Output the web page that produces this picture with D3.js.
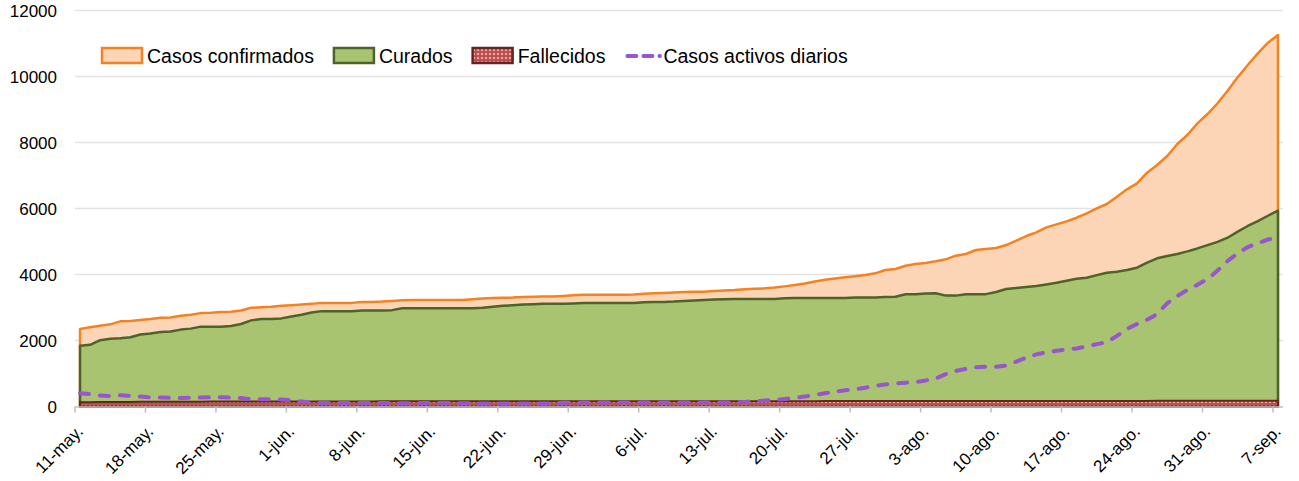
<!DOCTYPE html>
<html>
<head>
<meta charset="utf-8">
<script src="https://cdn.jsdelivr.net/npm/d3@7"></script>
<style>
  body { margin: 0; background: #fff; }
  text { font-family: "Liberation Sans", Arial, sans-serif; fill: #000; }
</style>
</head>
<body>
<div id="chart"></div>
<script>
"use strict"

/**
 * DATA (one value per day from 11-may to 7-sep)
 * */
const days = d3.timeDay.range(new Date(2020, 4, 11), new Date(2020, 8, 8));

const tickLabels = ["11-may.", "18-may.", "25-may.", "1-jun.", "8-jun.", "15-jun.",
  "22-jun.", "29-jun.", "6-jul.", "13-jul.", "20-jul.", "27-jul.", "3-ago.",
  "10-ago.", "17-ago.", "24-ago.", "31-ago.", "7-sep."];

const yTicks = [0, 2000, 4000, 6000, 8000, 10000, 12000];

const confirmados = [
  2350, 2400, 2450, 2490, 2580, 2590, 2620, 2650, 2690, 2700,
  2750, 2780, 2830, 2840, 2860, 2870, 2910, 2990, 3010, 3020,
  3050, 3070, 3090, 3110, 3140, 3140, 3140, 3140, 3170, 3170,
  3180, 3200, 3220, 3225, 3225, 3225, 3225, 3225, 3230, 3250,
  3270, 3290, 3295, 3300, 3320, 3325, 3330, 3335, 3350, 3370,
  3385, 3385, 3390, 3390, 3390, 3395, 3415, 3430, 3440, 3455,
  3470, 3475, 3480, 3500, 3515, 3530, 3555, 3565, 3580, 3605,
  3640, 3680, 3730, 3790, 3840, 3880, 3920, 3950, 3985, 4035,
  4136, 4166, 4267, 4318, 4348, 4399, 4460, 4570, 4621, 4742,
  4772, 4803, 4893, 5024, 5166, 5277, 5428, 5519, 5610, 5721,
  5853, 6004, 6136, 6357, 6580, 6762, 7085, 7317, 7590, 7954,
  8226, 8580, 8863, 9187, 9570, 9975, 10347, 10702, 11024, 11256
];

const curados = [
  1840, 1870, 2010, 2050, 2070, 2100, 2180, 2210, 2260, 2270,
  2330, 2360, 2420, 2420, 2420, 2440, 2500, 2610, 2650, 2650,
  2670, 2730, 2780, 2850, 2890, 2890, 2890, 2890, 2910, 2910,
  2910, 2920, 2980, 2980, 2980, 2980, 2980, 2980, 2980, 2980,
  2990, 3020, 3050, 3070, 3090, 3100, 3110, 3110, 3110, 3120,
  3135, 3140, 3140, 3140, 3140, 3140, 3160, 3165, 3170, 3180,
  3200, 3215, 3230, 3240, 3250, 3255, 3255, 3255, 3255, 3255,
  3280, 3285, 3285, 3285, 3285, 3285, 3285, 3300, 3300, 3300,
  3320, 3325, 3400, 3405, 3425, 3430, 3360, 3360, 3400, 3405,
  3405, 3470, 3560, 3590, 3620, 3650, 3700, 3750, 3810, 3870,
  3900, 3980, 4055, 4085, 4135, 4205, 4360, 4490, 4560, 4620,
  4700, 4790, 4890, 4990, 5115, 5300, 5470, 5620, 5780, 5935
];

const fallecidos = [
  130, 132, 134, 136, 138, 140, 141, 142, 143, 144,
  145, 146, 147, 148, 149, 150, 150, 151, 151, 152,
  152, 153, 153, 154, 154, 154, 155, 155, 155, 155,
  156, 156, 156, 156, 156, 157, 157, 157, 157, 157,
  158, 158, 158, 158, 158, 158, 159, 159, 159, 159,
  159, 159, 160, 160, 160, 160, 160, 160, 160, 160,
  161, 161, 161, 161, 161, 161, 161, 162, 162, 162,
  162, 162, 162, 162, 163, 163, 163, 163, 163, 163,
  164, 164, 164, 164, 164, 165, 165, 165, 165, 165,
  166, 166, 166, 166, 167, 167, 167, 167, 168, 168,
  168, 169, 169, 169, 170, 170, 170, 171, 171, 172,
  172, 173, 173, 174, 174, 175, 175, 176, 176, 177
];

const activos = [
  400, 380, 330, 320, 340, 320, 300, 280, 270, 260,
  258, 265, 270, 280, 278, 268, 255, 220, 218, 218,
  210, 188, 150, 115, 105, 105, 108, 110, 108, 105,
  105, 102, 100, 102, 105, 106, 104, 102, 100, 98,
  92, 90, 88, 88, 90, 90, 92, 95, 112, 115,
  118, 118, 120, 120, 120, 118, 118, 120, 120, 122,
  120, 118, 118, 120, 122, 125, 140, 160, 180, 200,
  230, 260, 300, 350, 400, 450, 490, 520, 570, 620,
  670, 700, 720, 740, 790, 850, 980, 1080, 1140, 1190,
  1205, 1205, 1240, 1360, 1480, 1580, 1640, 1690, 1730, 1760,
  1820, 1890, 1950, 2140, 2350, 2500, 2630, 2800, 3130, 3350,
  3530, 3690, 3860, 4120, 4410, 4640, 4830, 4950, 5060, 5115
];

const seriesNames = ["Casos confirmados", "Curados", "Fallecidos", "Casos activos diarios"];

/**
 * LAYOUT
 * */
const width = 1299,
  height = 481,
  plot = { left: 75, right: 1283, top: 10.5, bottom: 406.5 };

const colors = {
  confFill: "#FBD5B5", confStroke: "#F58220",
  curFill: "#A9C471", curStroke: "#4F6228",
  falFill: "#C0504D", falStroke: "#632523",
  activos: "#9955CC", grid: "#E2E2E2", axis: "#BFBFBF"
};

const svg = d3.select("#chart")
  .append("svg")
  .attr("width", width)
  .attr("height", height);

const defs = svg.append("defs");
const pat = defs.append("pattern")
  .attr("id", "dots")
  .attr("patternUnits", "userSpaceOnUse")
  .attr("width", 4)
  .attr("height", 4);
pat.append("rect").attr("width", 4).attr("height", 4).attr("fill", colors.falFill);
pat.append("circle").attr("cx", 2).attr("cy", 2).attr("r", 0.9).attr("fill", "#F6D8D6");

const x = d3.scaleBand()
  .domain(days)
  .range([plot.left, plot.right])
  .paddingInner(0)
  .paddingOuter(0);

const y = d3.scaleLinear()
  .domain([0, 12000])
  .range([plot.bottom, plot.top]);

const cx = i => x(days[i]) + x.bandwidth() / 2;

// gridlines
svg.append("g")
  .selectAll("line")
  .data(yTicks.slice(1))
  .join("line")
    .attr("x1", plot.left)
    .attr("x2", plot.right)
    .attr("y1", d => y(d))
    .attr("y2", d => y(d))
    .attr("stroke", colors.grid)
    .attr("stroke-width", 1.5);

// y labels
svg.append("g")
  .style("font-size", "17px")
  .attr("text-anchor", "end")
  .selectAll("text")
  .data(yTicks)
  .join("text")
    .attr("x", 57)
    .attr("y", d => y(d))
    .attr("dy", "0.36em")
    .text(d => d);

// areas
const area = vals => d3.area()
  .x((d, i) => cx(i))
  .y0(y(0))
  .y1(d => y(d))(vals);

svg.append("path")
  .attr("d", area(confirmados))
  .attr("fill", colors.confFill)
  .attr("stroke", colors.confStroke)
  .attr("stroke-width", 2.5)
  .attr("stroke-linejoin", "round");

svg.append("path")
  .attr("d", area(curados))
  .attr("fill", colors.curFill)
  .attr("stroke", colors.curStroke)
  .attr("stroke-width", 2.5)
  .attr("stroke-linejoin", "round");

svg.append("path")
  .attr("d", area(fallecidos))
  .attr("fill", "url(#dots)")
  .attr("stroke", colors.falStroke)
  .attr("stroke-width", 2);

// x axis
const weekIdx = d3.range(0, days.length, 7);
const xAxis = svg.append("g");
xAxis.append("line")
  .attr("x1", plot.left)
  .attr("x2", plot.right)
  .attr("y1", plot.bottom + 0.5)
  .attr("y2", plot.bottom + 0.5)
  .attr("stroke", colors.axis)
  .attr("stroke-width", 1.5);

xAxis.selectAll("line.tick")
  .data(weekIdx)
  .join("line")
    .attr("class", "tick")
    .attr("x1", i => x(days[i]))
    .attr("x2", i => x(days[i]))
    .attr("y1", plot.bottom)
    .attr("y2", plot.bottom + 6)
    .attr("stroke", colors.axis)
    .attr("stroke-width", 1.5);

xAxis.selectAll("text")
  .data(weekIdx)
  .join("text")
    .style("font-size", "17px")
    .attr("text-anchor", "end")
    .attr("transform", i => `translate(${x(days[i]) + 9},${plot.bottom + 26}) rotate(-45)`)
    .text((i, k) => tickLabels[k]);

// activos line
svg.append("path")
  .attr("d", d3.line().x((d, i) => cx(i)).y(d => y(d))(activos))
  .attr("fill", "none")
  .attr("stroke", colors.activos)
  .attr("stroke-width", 4)
  .attr("stroke-dasharray", "9,11")
  .attr("stroke-linecap", "round");

/**
 * LEGEND
 * */
const legend = svg.append("g").style("font-size", "19.5px");
let lx = 101;
seriesNames.forEach((name, k) => {
  if (k < 3) {
    const fills = [colors.confFill, colors.curFill, "url(#dots)"];
    const strokes = [colors.confStroke, colors.curStroke, colors.falStroke];
    legend.append("rect")
      .attr("x", lx + 1)
      .attr("y", 48)
      .attr("width", 40)
      .attr("height", 15)
      .attr("fill", fills[k])
      .attr("stroke", strokes[k])
      .attr("stroke-width", 2.5);
    lx += 46;
  } else {
    legend.append("line")
      .attr("x1", lx + 3)
      .attr("x2", lx + 38)
      .attr("y1", 56)
      .attr("y2", 56)
      .attr("stroke", colors.activos)
      .attr("stroke-width", 4)
      .attr("stroke-dasharray", "9,7,9,7,0.5,20")
      .attr("stroke-linecap", "round");
    lx += 39;
  }
  const t = legend.append("text")
    .attr("x", lx)
    .attr("y", 56)
    .attr("dy", "0.35em")
    .text(name);
  lx += t.node().getComputedTextLength() + 19;
});
</script>
</body>
</html>
